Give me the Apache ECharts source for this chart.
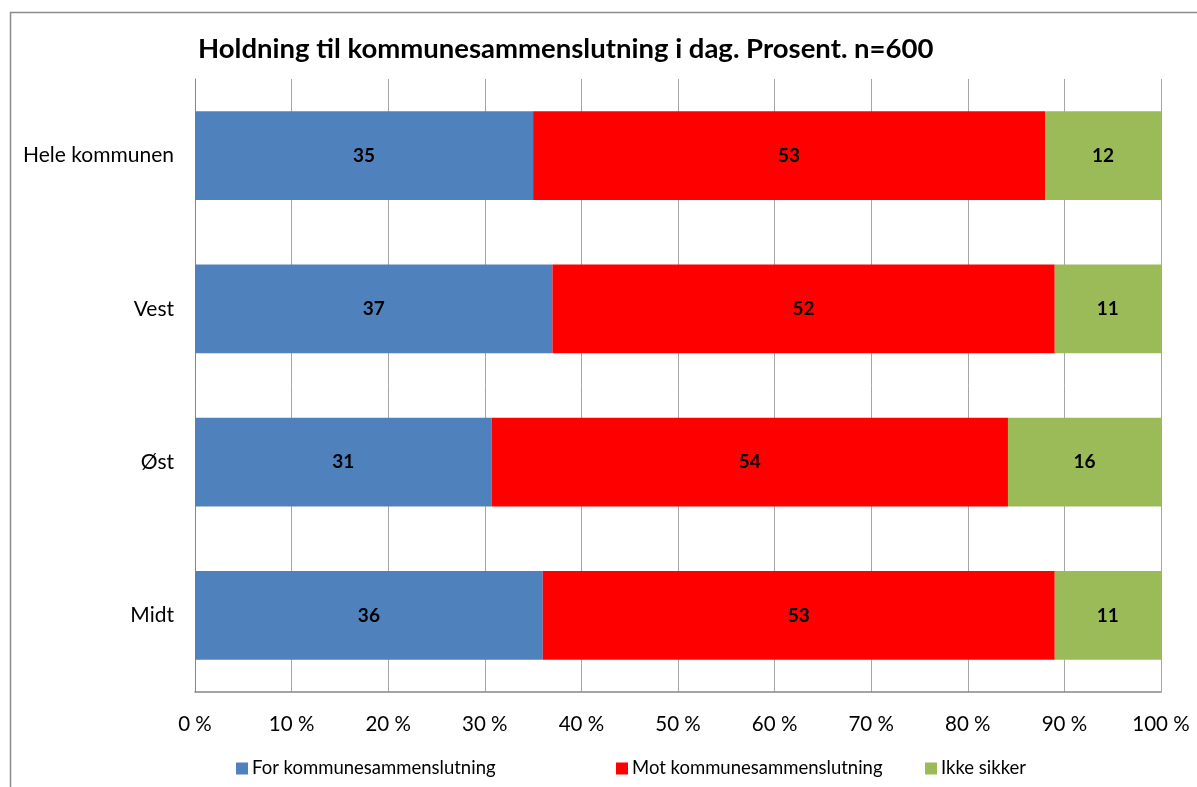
<!DOCTYPE html>
<html>
<head>
<meta charset="utf-8">
<script src="https://cdn.jsdelivr.net/npm/echarts@6/dist/echarts.min.js"></script>
<style>
html,body{margin:0;padding:0;background:#fff;}
#chart{width:1197px;height:787px;}
</style>
</head>
<body>
<div id="chart"></div>
<script>
const titleText = 'Holdning til kommunesammenslutning i dag. Prosent. n=600';
const categories = ['Hele kommunen', 'Vest', 'Øst', 'Midt'];
const seriesNames = ['For kommunesammenslutning', 'Mot kommunesammenslutning', 'Ikke sikker'];
const forValues = [35, 37, 31, 36];
const motValues = [53, 52, 54, 53];
const ikkeValues = [12, 11, 16, 11];
const colors = ['#4F81BD', '#FF0000', '#9BBB59'];

const raw = [forValues, motValues, ikkeValues];
const totals = categories.map((c, i) => raw.reduce((s, arr) => s + arr[i], 0));
const FONT = 'Lato';
const legendLefts = [231, 611, 920];

const chart = echarts.init(document.getElementById('chart'));
chart.setOption({
  animation: false,
  backgroundColor: '#fff',
  title: {
    text: titleText,
    left: 193, top: 30,
    textStyle: {fontFamily: FONT, fontWeight: 'bold', fontSize: 27.5, color: '#000'}
  },
  graphic: [{
    type: 'rect', left: 8, top: 10, silent: true,
    shape: {width: 1300, height: 900},
    style: {fill: 'none', stroke: '#8c8c8c', lineWidth: 1.5}
  }],
  legend: seriesNames.map((n, i) => ({
    top: 754, left: legendLefts[i],
    itemWidth: 12, itemHeight: 12,
    icon: 'rect',
    textStyle: {fontFamily: FONT, fontSize: 18.5, color: '#000', padding: [0, 0, 0, -1]},
    data: [n]
  })),
  grid: {left: 195, right: 36, top: 79, bottom: 95, containLabel: false},
  xAxis: {
    type: 'value', min: 0, max: 100, interval: 10,
    axisLabel: {formatter: '{value} %', fontFamily: FONT, fontSize: 20.5, color: '#000', margin: 22},
    axisLine: {show: true, lineStyle: {color: '#868686', width: 1.5}},
    axisTick: {show: false},
    splitLine: {show: true, lineStyle: {color: '#a6a6a6', width: 1}}
  },
  yAxis: {
    type: 'category', inverse: true, data: categories,
    axisLabel: {fontFamily: FONT, fontSize: 21, color: '#000', margin: 21},
    axisLine: {show: true, lineStyle: {color: '#868686', width: 1}},
    axisTick: {show: false}
  },
  series: raw.map((arr, si) => ({
    name: seriesNames[si],
    type: 'bar', stack: 'total',
    barCategoryGap: '42%',
    itemStyle: {color: colors[si]},
    label: {
      show: true, position: 'inside',
      fontFamily: FONT, fontWeight: 'bold', fontSize: 19, color: '#000',
      formatter: p => String(arr[p.dataIndex])
    },
    data: arr.map((v, i) => v / totals[i] * 100)
  }))
});
</script>
</body>
</html>
